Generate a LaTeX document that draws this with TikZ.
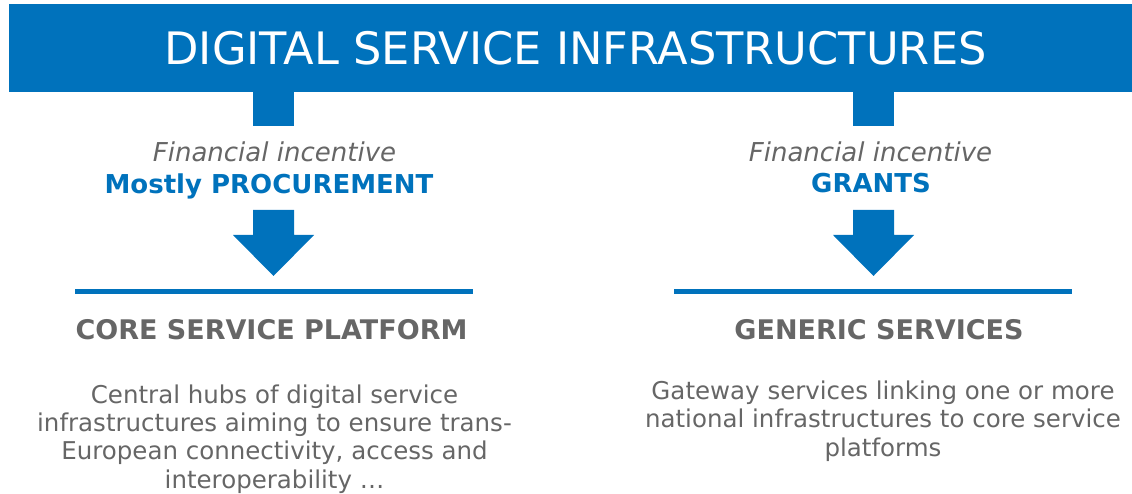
\documentclass[tikz,border=0pt]{standalone}
\usepackage{fontspec}
\setmainfont{DejaVu Sans}
\definecolor{eublue}{RGB}{0,114,188}
\definecolor{txtgray}{RGB}{102,102,102}
\begin{document}
\begin{tikzpicture}[x=1pt,y=-1pt,
  bannerbox/.style={fill=eublue, draw=none, inner sep=0, minimum width=1123pt, minimum height=88pt},
  titletext/.style={text=white, inner sep=0, font=\fontsize{44.7}{50}\selectfont},
  incent/.style={text=txtgray, inner sep=0, font=\fontsize{26}{30}\selectfont\itshape},
  kind/.style={text=eublue, inner sep=0, font=\fontsize{26}{30}\selectfont\bfseries},
  head/.style={text=txtgray, inner sep=0, font=\fontsize{27}{30}\selectfont\bfseries},
  body/.style={text=txtgray, inner sep=0, align=center, font=\fontsize{24.5}{28.3}\selectfont},
  rule/.style={draw=eublue, line width=5pt},
  bar/.style={fill=eublue, draw=none},
]
\useasboundingbox (0,0) rectangle (1132,494);
\node[bannerbox, anchor=north west] (ban) at (9,4) {};
\node[titletext, anchor=base] (title) at (575.5,65) {DIGITAL SERVICE INFRASTRUCTURES};
% stubs
\fill[eublue] (253,91) rectangle (294,126);
\fill[eublue] (853,91) rectangle (894,126);
% incentive texts
\node[incent, anchor=base] (fl) at (274.5,162) {Financial incentive};
\node[kind, anchor=base] (kl) at (269,194) {Mostly PROCUREMENT};
\node[incent, anchor=base] (fr) at (870.5,162) {Financial incentive};
\node[kind, anchor=base] (kr) at (871,193) {GRANTS};
% arrows
\fill[eublue] (253,210) -- (294,210) -- (294,235) -- (314,235) -- (273.5,276) -- (233,235) -- (253,235) -- cycle;
\fill[eublue] (853,210) -- (894,210) -- (894,235) -- (914,235) -- (873.5,276) -- (833,235) -- (853,235) -- cycle;
% rules
\coordinate (l1) at (75,291.5); \coordinate (l2) at (473,291.5);
\coordinate (r1) at (674,291.5); \coordinate (r2) at (1072,291.5);
\draw[rule] (l1) -- (l2);
\draw[rule] (r1) -- (r2);
% headers
\node[head, anchor=base] (hl) at (271.5,339) {CORE SERVICE PLATFORM};
\node[head, anchor=base] (hr) at (879,339) {GENERIC SERVICES};
% bodies
\node[body, anchor=base] (bl) at (274.5,488) {Central hubs of digital service\\infrastructures aiming to ensure trans-\\European connectivity, access and\\interoperability …};
\node[body, anchor=base] (br) at (883,456) {Gateway services linking one or more\\national infrastructures to core service\\platforms};
\end{tikzpicture}
\end{document}
